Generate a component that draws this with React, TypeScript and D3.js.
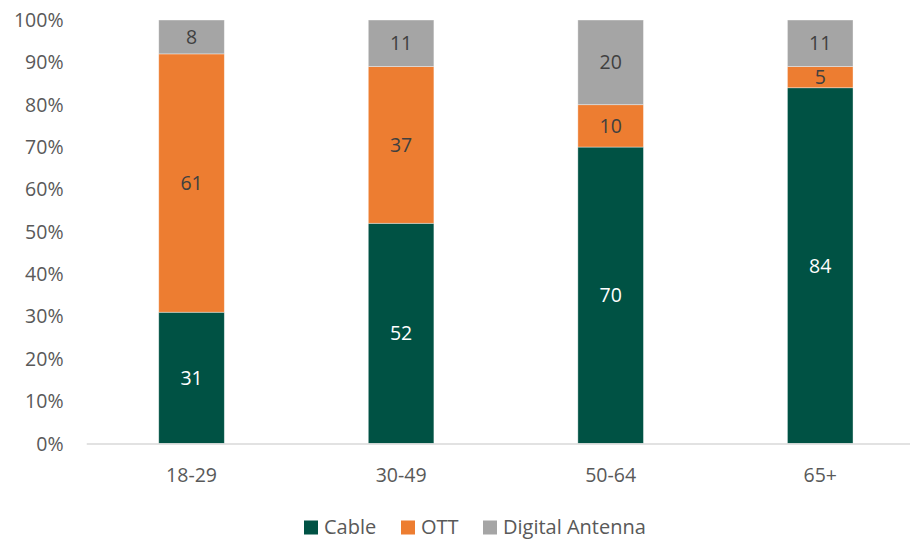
import React from "react";
import * as d3 from "d3";

const categories = ["18-29", "30-49", "50-64", "65+"];
const seriesNames = ["Cable", "OTT", "Digital Antenna"];
const cable = [31, 52, 70, 84];
const ott = [61, 37, 10, 5];
const antenna = [8, 11, 20, 11];
const yTicks = [0, 10, 20, 30, 40, 50, 60, 70, 80, 90, 100];
const colors = ["#005244", "#ED7D31", "#A5A5A5"];
const labelColors = ["#FFFFFF", "#404040", "#404040"];

const W = 910;
const H = 540;
const left = 86.75;
const right = 925;
const top = 20;
const bottom = 443.5;
const font = "'Open Sans', sans-serif";

export default function App() {
  const x = d3.scaleBand().domain(categories).range([left, right]).paddingInner(0.687).paddingOuter(0.3435);
  const y = d3.scaleLinear().domain([0, 100]).range([bottom, top]);
  const rows = categories.map((c, i) => ({ cat: c, Cable: cable[i], OTT: ott[i], "Digital Antenna": antenna[i] }));
  const stacked = d3.stack<any>().keys(seriesNames)(rows);

  const legendItems = [
    { name: "Cable", x: 304 },
    { name: "OTT", x: 401 },
    { name: "Digital Antenna", x: 483 },
  ];

  return (
    <svg width={W} height={H} style={{ position: "absolute", left: 0, top: 0, fontFamily: font }}>
      <rect width={W} height={H} fill="#fff" />
      {stacked.map((s, si) => (
        <g key={s.key}>
          {s.map((d, i) => {
            const x0 = x(categories[i])!;
            const y0 = y(d[1]);
            const h = y(d[0]) - y(d[1]);
            return (
              <g key={i}>
                <rect x={x0} y={y0} width={x.bandwidth()} height={h} fill={colors[si]} stroke="#fff" strokeOpacity={0.5} strokeWidth={0.75} />
                <text x={x0 + x.bandwidth() / 2} y={y0 + h / 2} dy="0.36em" textAnchor="middle" fontSize={19.5} fill={labelColors[si]}>
                  {d[1] - d[0]}
                </text>
              </g>
            );
          })}
        </g>
      ))}
      <line x1={left} x2={W} y1={bottom + 0.5} y2={bottom + 0.5} stroke="#D9D9D9" strokeWidth={1.5} />
      {yTicks.map((t) => (
        <text key={t} x={63.5} y={y(t)} dy="0.36em" textAnchor="end" fontSize={19.5} fill="#595959">
          {t}%
        </text>
      ))}
      {categories.map((c) => (
        <text key={c} x={x(c)! + x.bandwidth() / 2} y={475} dy="0.36em" textAnchor="middle" fontSize={19.5} fill="#595959">
          {c}
        </text>
      ))}
      {legendItems.map((l, i) => (
        <g key={l.name}>
          <rect x={l.x} y={520.5} width={14} height={14} fill={colors[i]} />
          <text x={l.x + 20} y={534} fontSize={20} fill="#595959">
            {seriesNames[i]}
          </text>
        </g>
      ))}
    </svg>
  );
}
